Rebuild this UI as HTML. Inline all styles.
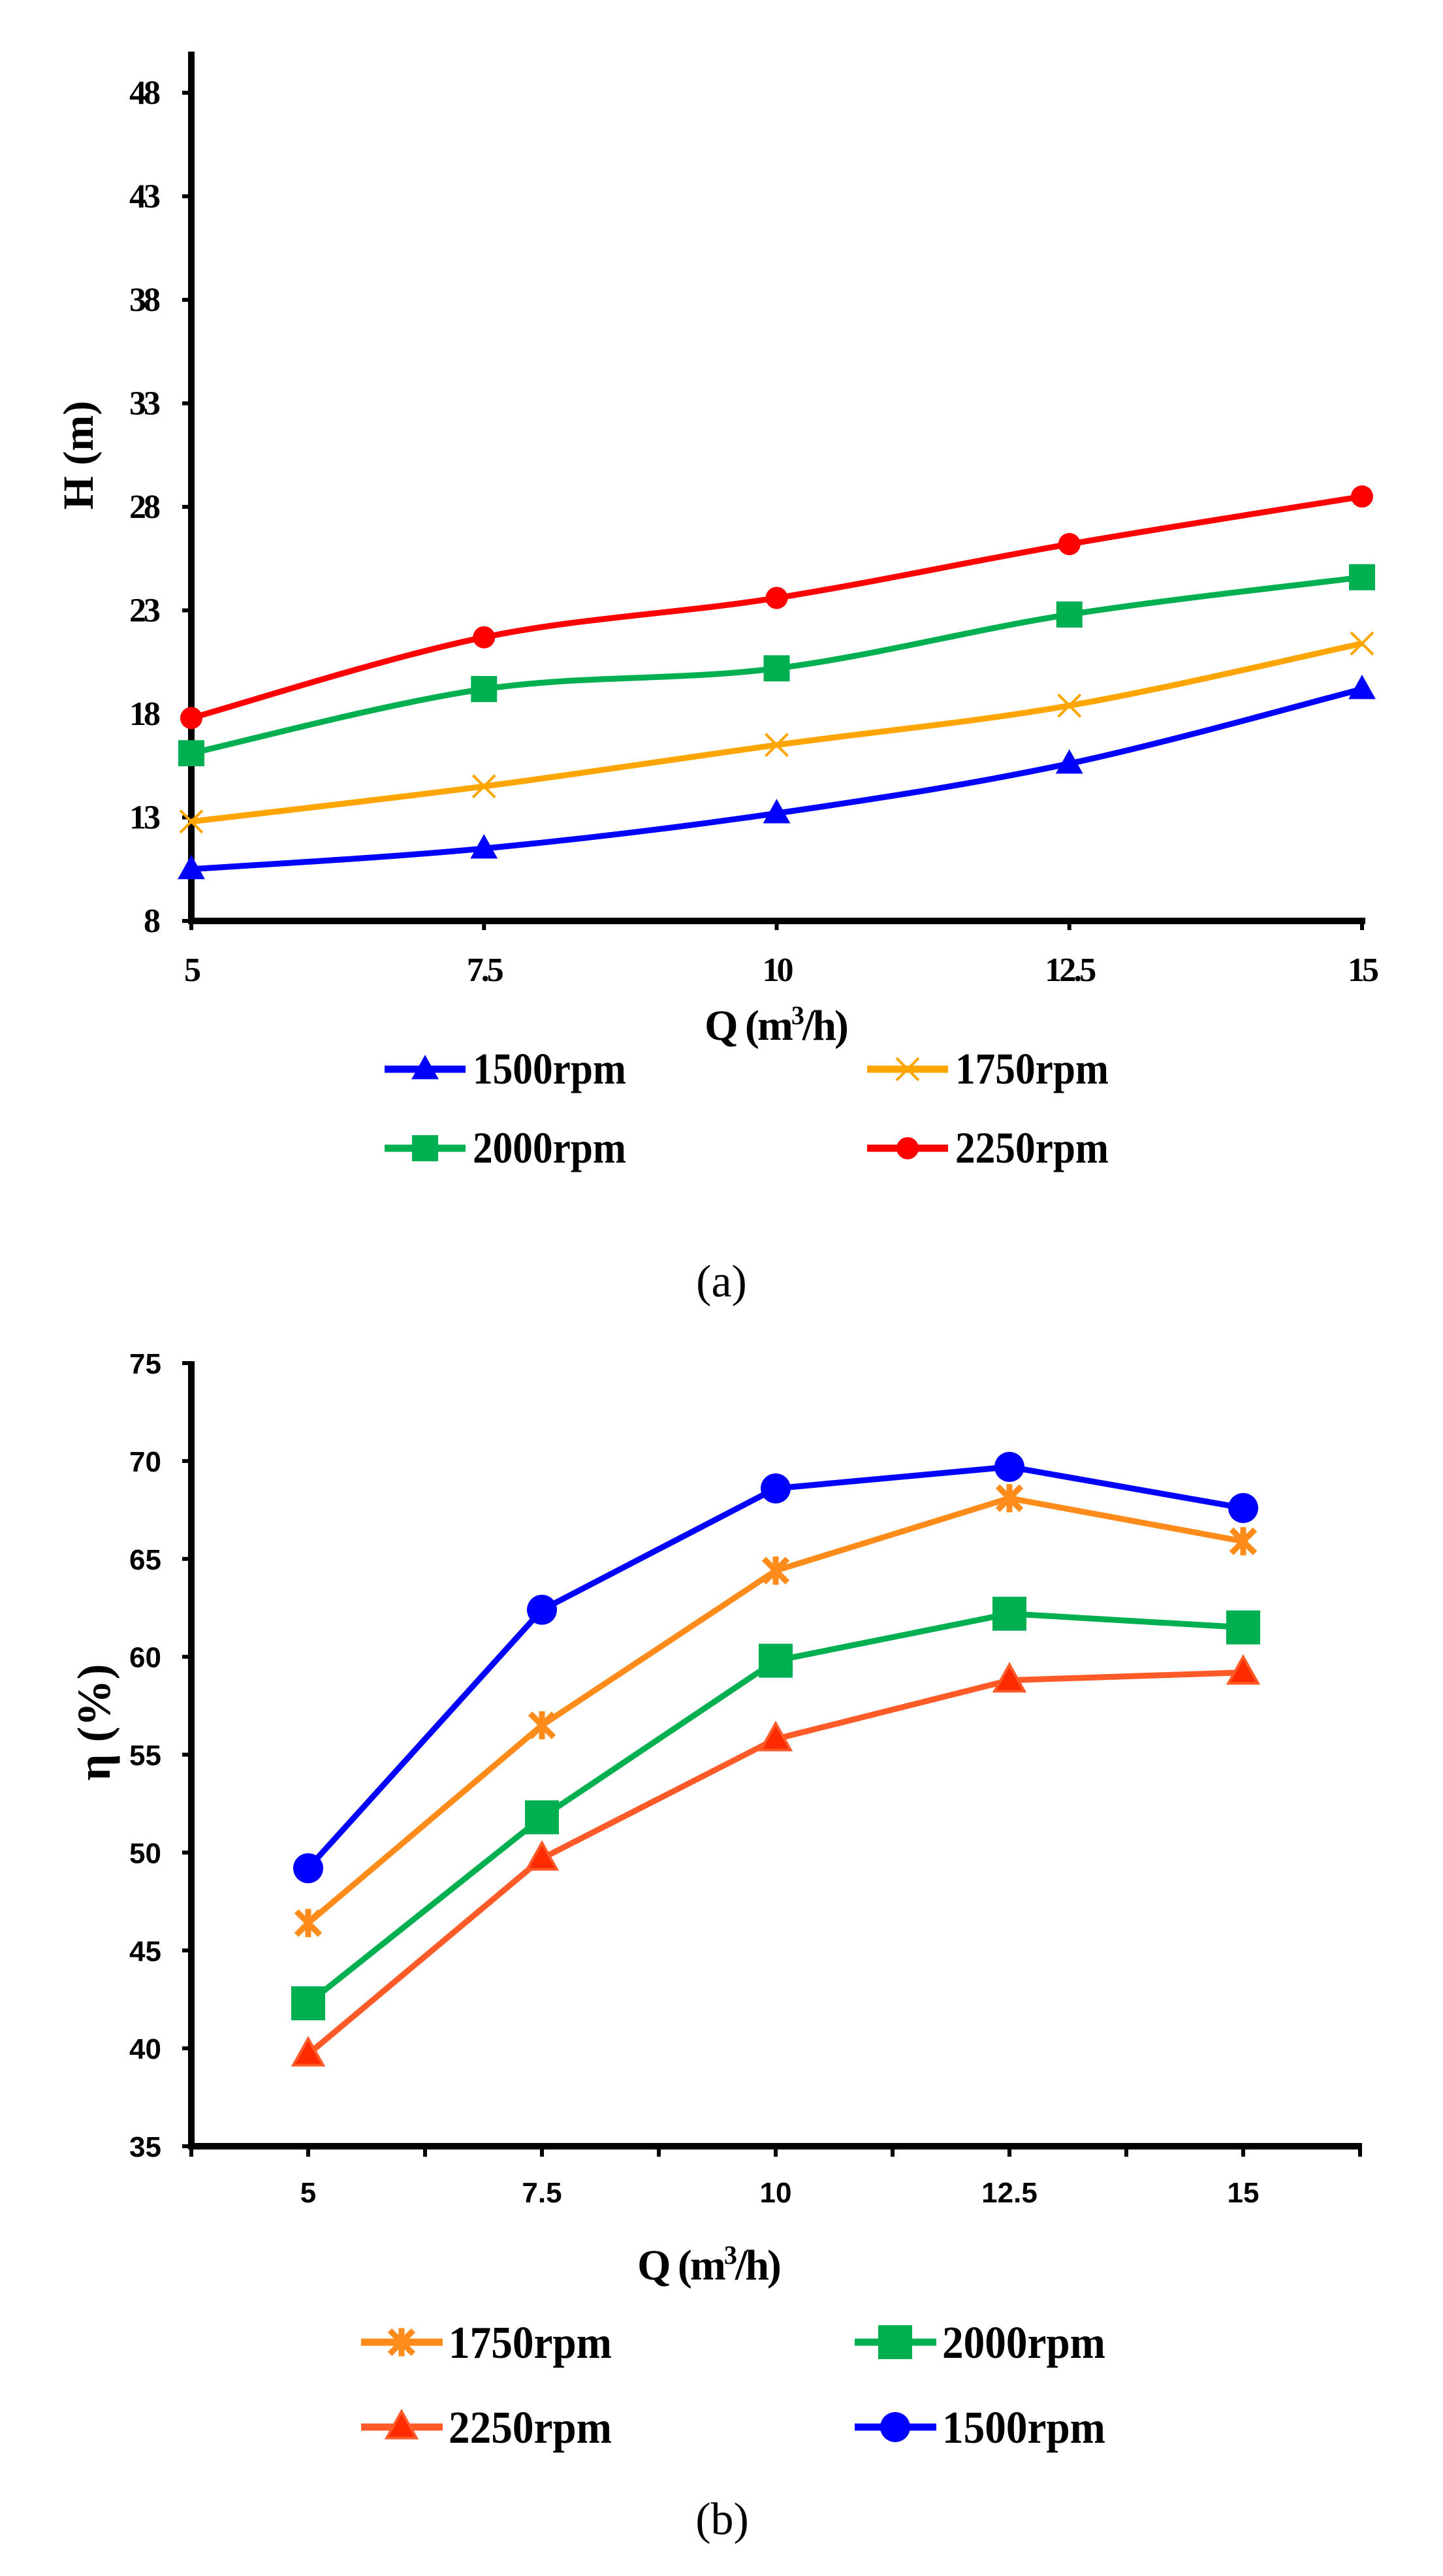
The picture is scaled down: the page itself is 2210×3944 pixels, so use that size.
<!DOCTYPE html>
<html><head><meta charset="utf-8"><style>
html,body{margin:0;padding:0;background:#fff;}
svg{display:block;}
.tn{font-family:"Liberation Serif",serif;font-weight:bold;}
.sn{font-family:"Liberation Sans",sans-serif;font-weight:bold;}
.rg{font-family:"Liberation Serif",serif;}
</style></head><body>
<svg id="svg" width="2210" height="3944" viewBox="0 0 2210 3944" xmlns="http://www.w3.org/2000/svg">
<g id="chartA"></g>
<g id="chartB"></g>
<text class="rg" x="1105" y="1985" font-size="70" text-anchor="middle">(a)</text>
<text class="rg" x="1106" y="3880" font-size="70" text-anchor="middle">(b)</text>
</svg>
<script>
const NS="http://www.w3.org/2000/svg";
// Chart A data
const catsA=[5,7.5,10,12.5,15];
const h1500=[10.5,11.5,13.2,15.6,19.2];
const h1750=[12.8,14.5,16.5,18.4,21.4];
const h2000=[16.1,19.2,20.2,22.8,24.6];
const h2250=[17.8,21.7,23.6,26.2,28.5];
const yTicksA=[8,13,18,23,28,33,38,43,48];
// Chart B data
const catsB=["5","7.5","10","12.5","15"];
const e1500=[49.2,62.4,68.6,69.7,67.6];
const e1750=[46.4,56.5,64.4,68.1,65.9];
const e2000=[42.3,51.8,59.8,62.2,61.5];
const e2250=[39.7,49.7,55.8,58.8,59.2];
const yTicksB=[35,40,45,50,55,60,65,70,75];

function mk(parent,tag,attrs,name,text){
  const e=document.createElementNS(NS,tag);
  for(const k in attrs)e.setAttribute(k,attrs[k]);
  
  
  if(text!==undefined)e.textContent=text;
  parent.appendChild(e);return e;
}
function marker(g,type,x,y,s,color,name){
  if(type==='tri'){mk(g,'polygon',{points:`${x},${y-s} ${x-s*0.95},${y+s*0.7} ${x+s*0.95},${y+s*0.7}`,fill:color},name);}
  else if(type==='tri2'){mk(g,'polygon',{points:`${x},${y-s} ${x-s*0.95},${y+s*0.7} ${x+s*0.95},${y+s*0.7}`,fill:'#ff2a00',stroke:color,'stroke-width':4},name);}
  else if(type==='sq'){mk(g,'rect',{x:x-s,y:y-s,width:2*s,height:2*s,fill:color},name);}
  else if(type==='circ'){mk(g,'circle',{cx:x,cy:y,r:s,fill:color},name);}
  else if(type==='x'){mk(g,'path',{d:`M${x-s},${y-s}L${x+s},${y+s}M${x-s},${y+s}L${x+s},${y-s}`,stroke:color,'stroke-width':4,fill:'none'},name);}
  else if(type==='star'){mk(g,'path',{d:`M${x-s},${y-s}L${x+s},${y+s}M${x-s},${y+s}L${x+s},${y-s}M${x},${y-s*1.2}L${x},${y+s*1.2}`,stroke:color,'stroke-width':9,fill:'none'},name);}
}
function smooth(pts){
  let d=`M${pts[0][0]},${pts[0][1]}`;
  for(let i=0;i<pts.length-1;i++){
    const p0=pts[Math.max(0,i-1)],p1=pts[i],p2=pts[i+1],p3=pts[Math.min(pts.length-1,i+2)];
    const c1=[p1[0]+(p2[0]-p0[0])/6,p1[1]+(p2[1]-p0[1])/6];
    const c2=[p2[0]-(p3[0]-p1[0])/6,p2[1]-(p3[1]-p1[1])/6];
    d+=`C${c1[0]},${c1[1]} ${c2[0]},${c2[1]} ${p2[0]},${p2[1]}`;
  }
  return d;
}
// ---------- Chart A ----------
(function(){
  const g=document.getElementById('chartA');
  const x0=293,x1=2086,y0=1410,y1=142;
  const xs=v=>x0+(v-5)/(15-5)*(x1-x0);
  const ys=v=>y0-(v-8)/(48-8)*(y0-y1);
  mk(g,'line',{x1:x0,y1:79,x2:x0,y2:y0+5,stroke:'#000','stroke-width':10},'y-axis');
  mk(g,'line',{x1:x0-5,y1:y0,x2:x1+5,y2:y0,stroke:'#000','stroke-width':10},'x-axis');
  yTicksA.forEach(t=>{
    mk(g,'line',{x1:x0-14,y1:ys(t),x2:x0,y2:ys(t),stroke:'#000','stroke-width':6},'y-tick');
    mk(g,'text',{class:'tn',x:242,y:ys(t)+17,'font-size':52,'text-anchor':'end','letter-spacing':-4},'y-tick-label',String(t));
  });
  catsA.forEach(c=>{
    mk(g,'line',{x1:xs(c),y1:y0,x2:xs(c),y2:y0+14,stroke:'#000','stroke-width':6},'x-tick');
    mk(g,'text',{class:'tn',x:xs(c),y:1502,'font-size':52,'text-anchor':'middle','letter-spacing':-4},'x-tick-label',String(c));
  });
  const t=mk(g,'text',{class:'tn',x:1188,y:1592,'font-size':66,'text-anchor':'middle','letter-spacing':-3},'x-axis-title');
  t.innerHTML='Q (m<tspan font-size="40" dy="-24">3</tspan><tspan dy="24">/h)</tspan>';
  mk(g,'text',{class:'tn',x:0,y:0,'font-size':66,'text-anchor':'middle',transform:'translate(142,697) rotate(-90)'},'y-axis-title','H (m)');
  const series=[[h1500,'#0000ff','tri',22,'1500rpm'],[h1750,'#ffa500','x',17,'1750rpm'],[h2000,'#00b050','sq',20,'2000rpm'],[h2250,'#ff0000','circ',17,'2250rpm']];
  series.forEach(s=>{
    const pts=catsA.map((c,i)=>[xs(c),ys(s[0][i])]);
    mk(g,'path',{d:smooth(pts),fill:'none',stroke:s[1],'stroke-width':9},'line-'+s[4]);
    pts.forEach(p=>marker(g,s[2],p[0],p[1],s[3],s[1],'point-'+s[4]));
  });
  const leg=[[589,1637,0],[1328,1637,1],[589,1758,2],[1328,1758,3]];
  leg.forEach(l=>{const s=series[l[2]];
    mk(g,'line',{x1:l[0],y1:l[1],x2:l[0]+124,y2:l[1],stroke:s[1],'stroke-width':11},'legend-line-'+s[4]);
    marker(g,s[2],l[0]+62,l[1],s[3],s[1],'legend-marker-'+s[4]);
    mk(g,'text',{class:'tn',x:l[0]+135,y:l[1]+22,'font-size':68,textLength:235,lengthAdjust:'spacingAndGlyphs'},'legend-label-'+s[4],s[4]);
  });
})();
// ---------- Chart B ----------
(function(){
  const g=document.getElementById('chartB');
  const x0=293,x1=2083,y0=3286,y1=2087;
  const bw=(x1-x0)/5;
  const xs=i=>x0+bw*(i+0.5);
  const ys=v=>y0-(v-35)/(75-35)*(y0-y1);
  mk(g,'line',{x1:x0,y1:y1-3,x2:x0,y2:y0+5,stroke:'#000','stroke-width':10},'y-axis');
  mk(g,'line',{x1:x0-5,y1:y0,x2:x1+3,y2:y0,stroke:'#000','stroke-width':10},'x-axis');
  yTicksB.forEach(t=>{
    mk(g,'line',{x1:x0-14,y1:ys(t),x2:x0,y2:ys(t),stroke:'#000','stroke-width':6},'y-tick');
    mk(g,'text',{class:'sn',x:247,y:ys(t)+16,'font-size':44,'text-anchor':'end'},'y-tick-label',String(t));
  });
  for(let i=0;i<=10;i++){
    const xt=x0+bw*i/2;
    mk(g,'line',{x1:xt,y1:y0,x2:xt,y2:y0+16,stroke:'#000','stroke-width':6},'x-tick');
  }
  catsB.forEach((c,i)=>{
    mk(g,'text',{class:'sn',x:xs(i),y:3372,'font-size':44,'text-anchor':'middle'},'x-tick-label',c);
  });
  const t=mk(g,'text',{class:'tn',x:1085,y:3490,'font-size':66,'text-anchor':'middle','letter-spacing':-3},'x-axis-title');
  t.innerHTML='Q (m<tspan font-size="40" dy="-24">3</tspan><tspan dy="24">/h)</tspan>';
  mk(g,'text',{class:'tn',x:0,y:0,'font-size':72,'text-anchor':'middle',transform:'translate(168,2637) rotate(-90)'},'y-axis-title','η (%)');
  const series=[[e1750,'#ff8c1a','star',18,'1750rpm'],[e2000,'#00b050','sq',26,'2000rpm'],[e2250,'#ff5a28','tri2',24,'2250rpm'],[e1500,'#0000ff','circ',23,'1500rpm']];
  const draw=[3,0,1,2];
  draw.forEach(k=>{const s=series[k];
    const pts=s[0].map((v,i)=>[xs(i),ys(v)]);
    mk(g,'polyline',{points:pts.map(p=>p.join(',')).join(' '),fill:'none',stroke:s[1],'stroke-width':9},'line-'+s[4]);
    pts.forEach(p=>marker(g,s[2],p[0],p[1],s[3],s[1],'point-'+s[4]));
  });
  const leg=[[553,3586,0],[1309,3586,1],[553,3716,2],[1309,3716,3]];
  leg.forEach(l=>{const s=series[l[2]];
    mk(g,'line',{x1:l[0],y1:l[1],x2:l[0]+125,y2:l[1],stroke:s[1],'stroke-width':11},'legend-line-'+s[4]);
    marker(g,s[2],l[0]+62,l[1],s[3],s[1],'legend-marker-'+s[4]);
    mk(g,'text',{class:'tn',x:l[0]+134,y:l[1]+24,'font-size':70,textLength:250,lengthAdjust:'spacingAndGlyphs'},'legend-label-'+s[4],s[4]);
  });
})();
</script>
</body></html>
